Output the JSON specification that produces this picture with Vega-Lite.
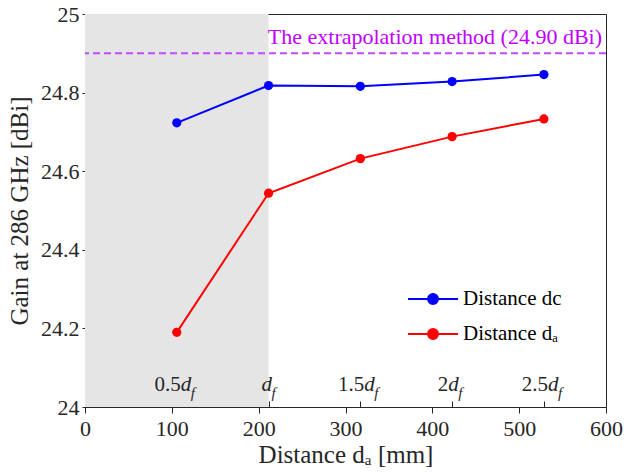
{
  "$schema": "https://vega.github.io/schema/vega-lite/v6.json",
  "width": 521,
  "height": 393,
  "autosize": "none",
  "padding": {"left": 85, "top": 14, "right": 18, "bottom": 69},
  "background": "white",
  "config": {
    "font": "Liberation Serif",
    "view": {"stroke": "#262626", "strokeWidth": 1},
    "style": {
      "guide-label": {"font": "Liberation Serif", "fontSize": 22, "fill": "#262626"},
      "guide-title": {"font": "Liberation Serif", "fontSize": 25, "fill": "#262626", "fontWeight": "normal"}
    },
    "axis": {
      "labelFont": "Liberation Serif",
      "titleFont": "Liberation Serif",
      "labelFontSize": 22,
      "titleFontSize": 25,
      "labelColor": "#262626",
      "titleColor": "#262626",
      "titleFontWeight": "normal",
      "domainColor": "#262626",
      "tickColor": "#262626",
      "labelFlush": false,
      "labelOverlap": false,
      "grid": false
    },
    "legend": {
      "orient": "none",
      "legendX": 337,
      "legendY": 274,
      "padding": 0,
      "symbolType": "M-2.5,0L2.5,0M0.5,0A0.5,0.5,0,1,1,-0.5,0A0.5,0.5,0,1,1,0.5,0Z",
      "symbolSize": 400,
      "symbolStrokeWidth": 2,
      "labelFont": "Liberation Serif",
      "labelFontSize": 21,
      "labelColor": "#000000",
      "labelOffset": 19,
      "labelLimit": 300,
      "rowPadding": 14
    }
  },
  "datasets": {
    "points": [
      {"x": 105.7, "gain": 24.723, "series": "Distance dc"},
      {"x": 211.4, "gain": 24.818, "series": "Distance dc"},
      {"x": 317.1, "gain": 24.816, "series": "Distance dc"},
      {"x": 422.8, "gain": 24.828, "series": "Distance dc"},
      {"x": 528.5, "gain": 24.846, "series": "Distance dc"},
      {"x": 105.7, "gain": 24.190, "series": "Distance dₐ"},
      {"x": 211.4, "gain": 24.544, "series": "Distance dₐ"},
      {"x": 317.1, "gain": 24.632, "series": "Distance dₐ"},
      {"x": 422.8, "gain": 24.688, "series": "Distance dₐ"},
      {"x": 528.5, "gain": 24.733, "series": "Distance dₐ"}
    ],
    "labels": [
      {"x": 105.7, "num": "0.5", "sym": "d", "sub": "f"},
      {"x": 211.4, "num": "", "sym": "d", "sub": "f"},
      {"x": 317.1, "num": "1.5", "sym": "d", "sub": "f"},
      {"x": 422.8, "num": "2", "sym": "d", "sub": "f"},
      {"x": 528.5, "num": "2.5", "sym": "d", "sub": "f"}
    ],
    "shade": [{"x0": 0, "x1": 211.4}],
    "extrap": [{"gain": 24.9, "xpos": 600, "label": "The extrapolation method (24.90 dBi)"}]
  },
  "resolve": {"axis": {"x": "independent"}},
  "layer": [
    {
      "data": {"name": "shade"},
      "mark": {"type": "rect", "fill": "#E5E5E5"},
      "encoding": {
        "x": {
          "field": "x0", "type": "quantitative",
          "scale": {"domain": [0, 600], "nice": false, "zero": false},
          "axis": {
            "orient": "bottom",
            "values": [0, 100, 200, 300, 400, 500, 600],
            "format": "d",
            "labelFont": "Liberation Serif",
            "labelFontSize": 22,
            "labelFlush": false,
            "titleFont": "Liberation Serif",
            "titleFontSize": 25,
            "tickSize": 6,
            "labelPadding": 5,
            "title": "Distance dₐ [mm]",
            "titlePadding": 3
          }
        },
        "x2": {"field": "x1"}
      }
    },
    {
      "data": {"name": "extrap"},
      "mark": {"type": "rule", "stroke": "#C04BFF", "strokeWidth": 2, "strokeDash": [7, 4]},
      "encoding": {
        "y": {"field": "gain", "type": "quantitative"}
      }
    },
    {
      "data": {"name": "extrap"},
      "mark": {"type": "text", "align": "right", "baseline": "alphabetic", "dx": -4, "dy": -9, "fontSize": 22, "font": "Liberation Serif", "color": "#BF00FF"},
      "encoding": {
        "x": {"field": "xpos", "type": "quantitative", "axis": null},
        "y": {"field": "gain", "type": "quantitative"},
        "text": {"field": "label"}
      }
    },
    {
      "data": {"name": "points"},
      "mark": {"type": "line", "strokeWidth": 2},
      "encoding": {
        "x": {"field": "x", "type": "quantitative", "axis": null},
        "y": {
          "field": "gain", "type": "quantitative",
          "scale": {"domain": [24, 25], "nice": false, "zero": false},
          "axis": {
            "values": [24, 24.2, 24.4, 24.6, 24.8, 25],
            "format": "~g",
            "labelFont": "Liberation Serif",
            "labelFontSize": 22,
            "labelFlush": false,
            "titleFont": "Liberation Serif",
            "titleFontSize": 25,
            "tickSize": 3,
            "labelPadding": 3,
            "title": "Gain at 286 GHz [dBi]",
            "titlePadding": 8
          }
        },
        "stroke": {
          "field": "series", "type": "nominal",
          "scale": {"domain": ["Distance dc", "Distance dₐ"], "range": ["#0000FF", "#FF0000"]},
          "legend": {"title": null}
        }
      }
    },
    {
      "data": {"name": "points"},
      "mark": {"type": "point", "shape": "circle", "filled": true, "size": 85, "opacity": 1},
      "encoding": {
        "x": {"field": "x", "type": "quantitative", "axis": null},
        "y": {"field": "gain", "type": "quantitative"},
        "fill": {
          "field": "series", "type": "nominal",
          "scale": {"domain": ["Distance dc", "Distance dₐ"], "range": ["#0000FF", "#FF0000"]},
          "legend": {"title": null}
        }
      }
    },
    {
      "data": {"name": "labels"},
      "mark": {"type": "text", "opacity": 0},
      "encoding": {
        "x": {
          "field": "x", "type": "quantitative",
          "axis": {
            "orient": "top",
            "offset": -393,
            "values": [105.7, 211.4, 317.1, 422.8, 528.5],
            "labels": false,
            "domain": false,
            "tickSize": 6,
            "title": null
          }
        },
        "y": {"datum": 24},
        "text": {"field": "num"}
      }
    },
    {
      "data": {"name": "labels"},
      "transform": [{"filter": "length(datum.num) == 3"}],
      "mark": {"type": "text", "align": "right", "baseline": "alphabetic", "dx": 4, "dy": -16, "fontSize": 21, "color": "#262626"},
      "encoding": {
        "x": {"field": "x", "type": "quantitative", "axis": null},
        "y": {"datum": 24},
        "text": {"field": "num"}
      }
    },
    {
      "data": {"name": "labels"},
      "transform": [{"filter": "datum.num == '2'"}],
      "mark": {"type": "text", "align": "right", "baseline": "alphabetic", "dx": -4, "dy": -16, "fontSize": 21, "color": "#262626"},
      "encoding": {
        "x": {"field": "x", "type": "quantitative", "axis": null},
        "y": {"datum": 24},
        "text": {"field": "num"}
      }
    },
    {
      "data": {"name": "labels"},
      "transform": [{"filter": "length(datum.num) == 3"}],
      "mark": {"type": "text", "align": "left", "baseline": "alphabetic", "dx": 4, "dy": -16, "fontSize": 21, "fontStyle": "italic", "color": "#262626"},
      "encoding": {
        "x": {"field": "x", "type": "quantitative", "axis": null},
        "y": {"datum": 24},
        "text": {"field": "sym"}
      }
    },
    {
      "data": {"name": "labels"},
      "transform": [{"filter": "datum.num == '2'"}],
      "mark": {"type": "text", "align": "left", "baseline": "alphabetic", "dx": -4, "dy": -16, "fontSize": 21, "fontStyle": "italic", "color": "#262626"},
      "encoding": {
        "x": {"field": "x", "type": "quantitative", "axis": null},
        "y": {"datum": 24},
        "text": {"field": "sym"}
      }
    },
    {
      "data": {"name": "labels"},
      "transform": [{"filter": "datum.num == ''"}],
      "mark": {"type": "text", "align": "left", "baseline": "alphabetic", "dx": -7, "dy": -16, "fontSize": 21, "fontStyle": "italic", "color": "#262626"},
      "encoding": {
        "x": {"field": "x", "type": "quantitative", "axis": null},
        "y": {"datum": 24},
        "text": {"field": "sym"}
      }
    },
    {
      "data": {"name": "labels"},
      "transform": [{"filter": "length(datum.num) == 3"}],
      "mark": {"type": "text", "align": "left", "baseline": "alphabetic", "dx": 14, "dy": -9, "fontSize": 15, "fontStyle": "italic", "color": "#262626"},
      "encoding": {
        "x": {"field": "x", "type": "quantitative", "axis": null},
        "y": {"datum": 24},
        "text": {"field": "sub"}
      }
    },
    {
      "data": {"name": "labels"},
      "transform": [{"filter": "datum.num == '2'"}],
      "mark": {"type": "text", "align": "left", "baseline": "alphabetic", "dx": 6, "dy": -9, "fontSize": 15, "fontStyle": "italic", "color": "#262626"},
      "encoding": {
        "x": {"field": "x", "type": "quantitative", "axis": null},
        "y": {"datum": 24},
        "text": {"field": "sub"}
      }
    },
    {
      "data": {"name": "labels"},
      "transform": [{"filter": "datum.num == ''"}],
      "mark": {"type": "text", "align": "left", "baseline": "alphabetic", "dx": 3, "dy": -9, "fontSize": 15, "fontStyle": "italic", "color": "#262626"},
      "encoding": {
        "x": {"field": "x", "type": "quantitative", "axis": null},
        "y": {"datum": 24},
        "text": {"field": "sub"}
      }
    }
  ]
}
